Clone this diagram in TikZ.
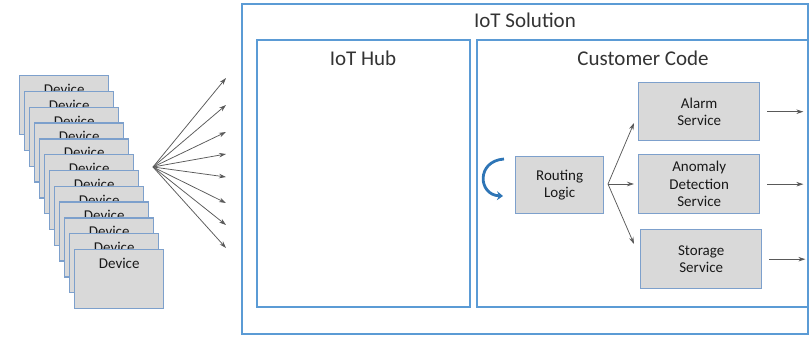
\documentclass[tikz,border=0pt]{standalone}
\usepackage{fontspec}
\setmainfont{Carlito}
\usetikzlibrary{arrows.meta}
\definecolor{frameblue}{HTML}{5B9BD5}
\definecolor{boxedge}{HTML}{7DA0CC}
\definecolor{boxfill}{HTML}{D9D9D9}
\definecolor{arrowgray}{HTML}{595959}
\definecolor{loopblue}{HTML}{2E75B6}
\tikzset{
  frame/.style={draw=frameblue, line width=2.6pt},
  title/.style={font=\fontsize{21}{25}\selectfont, text=black!80},
  devbox/.style={draw=boxedge, fill=boxfill, line width=1.4pt, minimum width=89pt, minimum height=59pt, inner sep=0pt},
  devtext/.style={font=\fontsize{15}{18}\selectfont, text=black!90, inner sep=0pt},
  svcbox/.style={draw=boxedge, fill=boxfill, line width=1.4pt, align=center, inner sep=0pt, font=\fontsize{15}{17.5}\selectfont, text=black!90},
  thinarrow/.style={draw=arrowgray, line width=0.75pt, -{Stealth[length=7pt,width=4.5pt]}},
}
\begin{document}
\begin{tikzpicture}[x=1pt,y=-1pt]
\useasboundingbox (0,0) rectangle (812,337);
% containers
\draw[frame] (242,4) rectangle (808,334);
\draw[frame] (257,40) rectangle (470,307);
\draw[frame] (477,40) rectangle (808,307);
\node[title] (soltitle) at (525,20) {IoT Solution};
\node[title] (hubtitle) at (363,58) {IoT Hub};
\node[title] (codetitle) at (643,58) {Customer Code};
% stack of devices
\foreach \i in {0,...,11} {
  \node[devbox, anchor=north west,
    label={[name=devlabel\i, devtext, anchor=north, yshift=-9pt]north:Device}]
    (dev\i) at (19+5*\i, 75+15.8*\i) {};
}
% fan into the hub
\coordinate (fan) at (153,167);
\foreach \y [count=\k] in {78,105,132,154,177,203,225,248} {
  \coordinate (hubin\k) at (226,\y);
  \draw[thinarrow] (fan) -- (hubin\k);
}
% customer code
\node[svcbox, anchor=north west, minimum width=88pt, minimum height=57pt] (routing) at (515,156) {Routing\\Logic};
\node[svcbox, anchor=north west, minimum width=121pt, minimum height=58pt] (alarm) at (638,82) {Alarm\\Service};
\node[svcbox, anchor=north west, minimum width=121pt, minimum height=59pt] (anomaly) at (638,154) {Anomaly\\Detection\\Service};
\node[svcbox, anchor=north west, minimum width=121pt, minimum height=59pt] (storage) at (640,229) {Storage\\Service};
\coordinate (split) at (608,184);
\coordinate (toalarm) at (634,123);
\coordinate (toanomaly) at (634,184);
\coordinate (tostorage) at (634,244);
\draw[thinarrow] (split) -- (toalarm);
\draw[thinarrow] (split) -- (toanomaly);
\draw[thinarrow] (split) -- (tostorage);
\foreach \s in {alarm,anomaly,storage}
  \draw[thinarrow] ([xshift=7pt]\s.east) -- ++(36,0);
% loop arrow
\draw[loopblue, line width=2.8pt, -{Stealth[length=6pt,width=9pt]}]
  (504,159) .. controls (476,161) and (478,195) .. (503,196);
\end{tikzpicture}
\end{document}
